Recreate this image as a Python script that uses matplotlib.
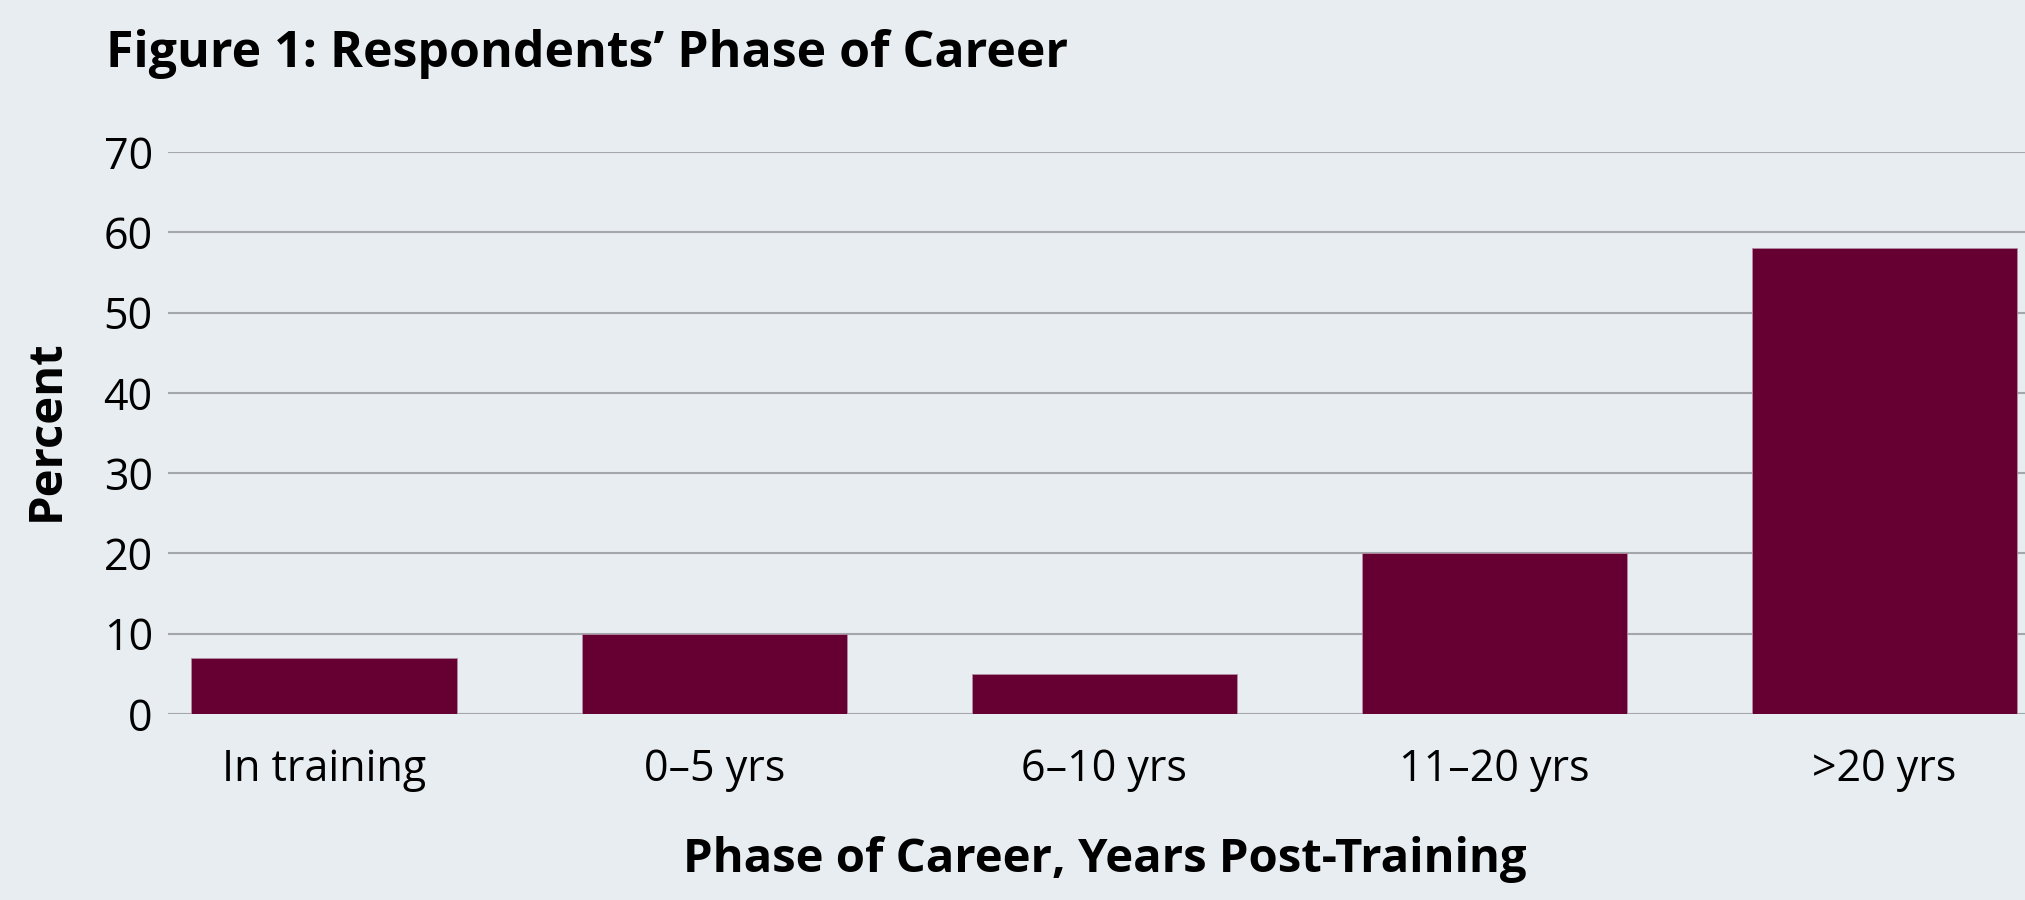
import matplotlib
matplotlib.use("Agg")
import matplotlib.pyplot as plt
from matplotlib import font_manager

categories = ["In training", "0\u20135 yrs", "6\u201310 yrs", "11\u201320 yrs", ">20 yrs"]
percent = [7, 10, 5, 20, 58]
yticks = [0, 10, 20, 30, 40, 50, 60, 70]

names = {f.name for f in font_manager.fontManager.ttflist}
fam = [f for f in ["Liberation Sans Narrow", "Open Sans", "DejaVu Sans"] if f in names]
plt.rcParams["font.family"] = fam

BG = "#e8edf1"
BAR = "#660033"
GRID = "#a3a6aa"

W, H = 2025, 900
fig = plt.figure(figsize=(W / 100, H / 100), dpi=100)
fig.patch.set_facecolor(BG)
ax = fig.add_axes([168 / W, 1 - 714 / H, 1 - 168 / W, (714 - 152) / H])
ax.set_facecolor(BG)

xs = list(range(len(categories)))
ax.bar(xs, percent, width=0.68, color=BAR, edgecolor="#b48ca3", linewidth=0.6, zorder=3)

ax.set_ylim(0, 70)
ax.set_xlim(-0.40, 4.36)
ax.set_yticks(yticks)
ax.set_xticks(xs)
ax.set_xticklabels(categories)
ax.yaxis.grid(True, color=GRID, linewidth=1.5, zorder=0)
ax.set_axisbelow(True)
for sp in ax.spines.values():
    sp.set_visible(False)
ax.tick_params(axis="both", length=0, labelsize=31, colors="black")
ax.tick_params(axis="y", pad=11)
ax.tick_params(axis="x", pad=24)

fig.text(106 / W, 1 - 67 / H, "Figure 1: Respondents\u2019 Phase of Career",
         fontsize=36, fontweight="bold", va="baseline", ha="left")
fig.text(1105 / W, 1 - 872 / H, "Phase of Career, Years Post-Training",
         fontsize=34, fontweight="bold", va="baseline", ha="center")
fig.text(46 / W, 1 - 430 / H, "Percent", fontsize=34, fontweight="bold",
         rotation=90, va="center", ha="center")

fig.savefig("out.png", dpi=100, facecolor=fig.get_facecolor())
